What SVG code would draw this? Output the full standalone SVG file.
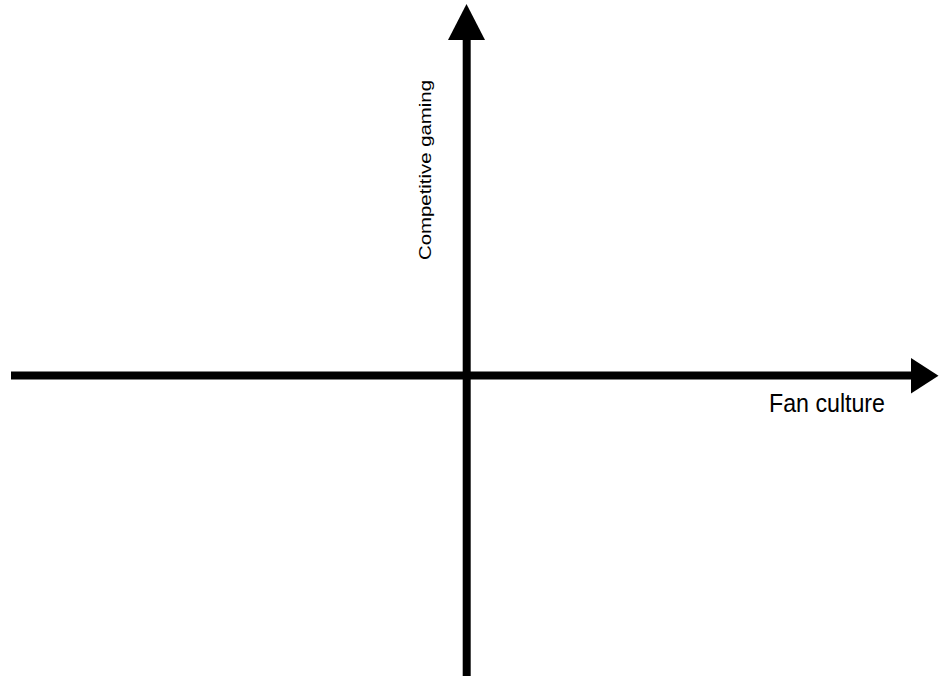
<svg xmlns="http://www.w3.org/2000/svg" width="940" height="677" viewBox="0 0 940 677">
<style>
.axis{stroke:#000;stroke-width:8;fill:none}
.head{fill:#000}
.lbl{font-family:"Liberation Sans",Arial,sans-serif;fill:#000}
</style>
<rect width="940" height="677" fill="#fff"/>
<g id="connectors">
<line class="axis" x1="11" y1="375.5" x2="913" y2="375.5"/>
<polygon class="head" points="911,358 911,393.5 938.5,375.7"/>
<line class="axis" x1="466.7" y1="676" x2="466.7" y2="38"/>
<polygon class="head" points="448,40 485,40 466.5,4"/>
</g>
<g id="label-x">
<text class="lbl" x="769" y="411.5" font-size="26" textLength="116" lengthAdjust="spacingAndGlyphs">Fan culture</text>
</g>
<g id="label-y">
<text class="lbl" transform="translate(431,260) rotate(-90)" font-size="16" textLength="180" lengthAdjust="spacingAndGlyphs">Competitive gaming</text>
</g>
</svg>
